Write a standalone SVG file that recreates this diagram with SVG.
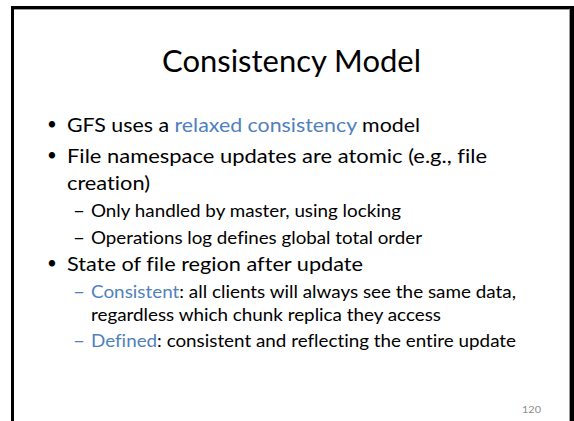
<svg xmlns="http://www.w3.org/2000/svg" width="574" height="421" viewBox="0 0 574 421">
<style>
text{font-family:Lato,"Open Sans","Liberation Sans",sans-serif;fill:#000;font-variant-ligatures:none;font-feature-settings:"liga" 0}
.t{font-size:31px}
.l1{font-size:20px}
.l2{font-size:17px}
.bu{font-size:17px}
.b{fill:#4F81BD}
.pn{font-size:8.5px;fill:#8C8C8C}
</style>
<rect x="0" y="0" width="574" height="421" fill="#fff"/>
<rect x="11" y="6" width="563" height="420" fill="#000"/>
<rect x="14" y="9" width="556" height="420" fill="#fff"/>
<line x1="14" y1="9.5" x2="570" y2="9.5" stroke="#9a9a9a" stroke-width="1"/>
<line x1="569.5" y1="9" x2="569.5" y2="421" stroke="#9a9a9a" stroke-width="1"/>
<g id="title">
<text class="t" x="162" y="72" textLength="259" lengthAdjust="spacingAndGlyphs">Consistency Model</text>
</g>
<g id="body">
<text class="bu" x="47" y="130">•</text>
<text class="l1" x="67" y="132" textLength="353" lengthAdjust="spacingAndGlyphs">GFS uses a <tspan class="b">relaxed consistency</tspan> model</text>
<text class="bu" x="47" y="161">•</text>
<text class="l1" x="67" y="163" textLength="420" lengthAdjust="spacingAndGlyphs">File namespace updates are atomic (e.g., file</text>
<text class="l1" x="67" y="190" textLength="83" lengthAdjust="spacingAndGlyphs">creation)</text>
<text class="l2" x="73" y="217" textLength="12" lengthAdjust="spacingAndGlyphs">–</text>
<text class="l2" x="91" y="217" textLength="310" lengthAdjust="spacingAndGlyphs">Only handled by master, using locking</text>
<text class="l2" x="73" y="244" textLength="12" lengthAdjust="spacingAndGlyphs">–</text>
<text class="l2" x="91" y="244" textLength="331" lengthAdjust="spacingAndGlyphs">Operations log defines global total order</text>
<text class="bu" x="47" y="269">•</text>
<text class="l1" x="67" y="271" textLength="296" lengthAdjust="spacingAndGlyphs">State of file region after update</text>
<text class="l2 b" x="73" y="298" textLength="12" lengthAdjust="spacingAndGlyphs">–</text>
<text class="l2" x="91" y="298" textLength="425" lengthAdjust="spacingAndGlyphs"><tspan class="b">Consistent</tspan>: all clients will always see the same data,</text>
<text class="l2" x="91" y="321" textLength="350" lengthAdjust="spacingAndGlyphs">regardless which chunk replica they access</text>
<text class="l2 b" x="73" y="347" textLength="12" lengthAdjust="spacingAndGlyphs">–</text>
<text class="l2" x="91" y="347" textLength="425" lengthAdjust="spacingAndGlyphs"><tspan class="b">Defined</tspan>: consistent and reflecting the entire update</text>
</g>
<g id="page-number">
<text class="pn" x="522" y="413" textLength="19" lengthAdjust="spacingAndGlyphs">120</text>
</g>
</svg>
